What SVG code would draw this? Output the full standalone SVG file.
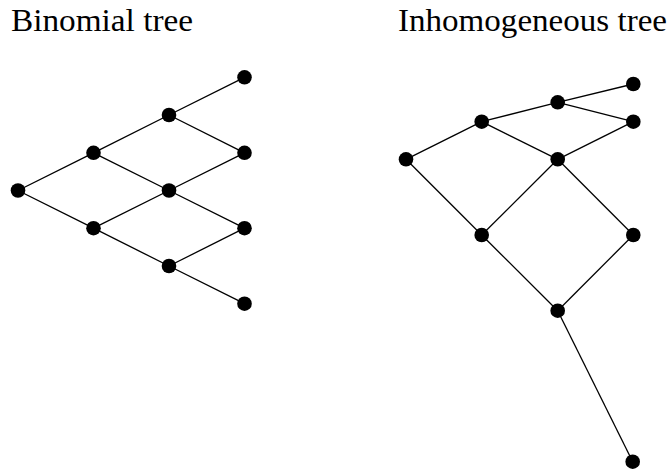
<svg xmlns="http://www.w3.org/2000/svg" width="670" height="471" viewBox="0 0 670 471">
<style>
.t{font-family:"Liberation Serif","DejaVu Serif",serif;font-size:31px;fill:#000}
.e line{stroke:#000;stroke-width:1.3}
.n circle{fill:#000}
</style>
<rect width="670" height="471" fill="#fff"/>
<text class="t" x="11" y="31" textLength="182" lengthAdjust="spacingAndGlyphs">Binomial tree</text>
<text class="t" x="398" y="31" textLength="269" lengthAdjust="spacingAndGlyphs">Inhomogeneous tree</text>
<g id="connectors" class="e">
<line x1="18" y1="190.5" x2="93.5" y2="152.8"/>
<line x1="18" y1="190.5" x2="93.5" y2="228.2"/>
<line x1="93.5" y1="152.8" x2="169" y2="115"/>
<line x1="93.5" y1="152.8" x2="169" y2="190.5"/>
<line x1="93.5" y1="228.2" x2="169" y2="190.5"/>
<line x1="93.5" y1="228.2" x2="169" y2="266"/>
<line x1="169" y1="115" x2="244.5" y2="77.3"/>
<line x1="169" y1="115" x2="244.5" y2="152.8"/>
<line x1="169" y1="190.5" x2="244.5" y2="152.8"/>
<line x1="169" y1="190.5" x2="244.5" y2="228.2"/>
<line x1="169" y1="266" x2="244.5" y2="228.2"/>
<line x1="169" y1="266" x2="244.5" y2="303.7"/>
<line x1="406" y1="159.3" x2="481.7" y2="121.7"/>
<line x1="406" y1="159.3" x2="481.7" y2="235"/>
<line x1="481.7" y1="121.7" x2="557.7" y2="102.3"/>
<line x1="481.7" y1="121.7" x2="557.7" y2="159.3"/>
<line x1="481.7" y1="235" x2="557.7" y2="159.3"/>
<line x1="481.7" y1="235" x2="557.7" y2="310.7"/>
<line x1="557.7" y1="102.3" x2="633.3" y2="84"/>
<line x1="557.7" y1="102.3" x2="633.3" y2="121.7"/>
<line x1="557.7" y1="159.3" x2="633.3" y2="121.7"/>
<line x1="557.7" y1="159.3" x2="633.3" y2="235"/>
<line x1="557.7" y1="310.7" x2="633.3" y2="235"/>
<line x1="557.7" y1="310.7" x2="632.7" y2="461.7"/>
</g>
<g class="n">
<g id="b0"><circle cx="18" cy="190.5" r="7.3"/></g>
<g id="b1u"><circle cx="93.5" cy="152.8" r="7.3"/></g>
<g id="b1d"><circle cx="93.5" cy="228.2" r="7.3"/></g>
<g id="b2uu"><circle cx="169" cy="115" r="7.3"/></g>
<g id="b2ud"><circle cx="169" cy="190.5" r="7.3"/></g>
<g id="b2dd"><circle cx="169" cy="266" r="7.3"/></g>
<g id="b3a"><circle cx="244.5" cy="77.3" r="7.3"/></g>
<g id="b3b"><circle cx="244.5" cy="152.8" r="7.3"/></g>
<g id="b3c"><circle cx="244.5" cy="228.2" r="7.3"/></g>
<g id="b3d"><circle cx="244.5" cy="303.7" r="7.3"/></g>
<g id="i0"><circle cx="406" cy="159.3" r="7.3"/></g>
<g id="i1u"><circle cx="481.7" cy="121.7" r="7.3"/></g>
<g id="i1d"><circle cx="481.7" cy="235" r="7.3"/></g>
<g id="i2a"><circle cx="557.7" cy="102.3" r="7.3"/></g>
<g id="i2b"><circle cx="557.7" cy="159.3" r="7.3"/></g>
<g id="i2c"><circle cx="557.7" cy="310.7" r="7.3"/></g>
<g id="i3a"><circle cx="633.3" cy="84" r="7.3"/></g>
<g id="i3b"><circle cx="633.3" cy="121.7" r="7.3"/></g>
<g id="i3c"><circle cx="633.3" cy="235" r="7.3"/></g>
<g id="i3d"><circle cx="632.7" cy="461.7" r="7.3"/></g>
</g>
</svg>
